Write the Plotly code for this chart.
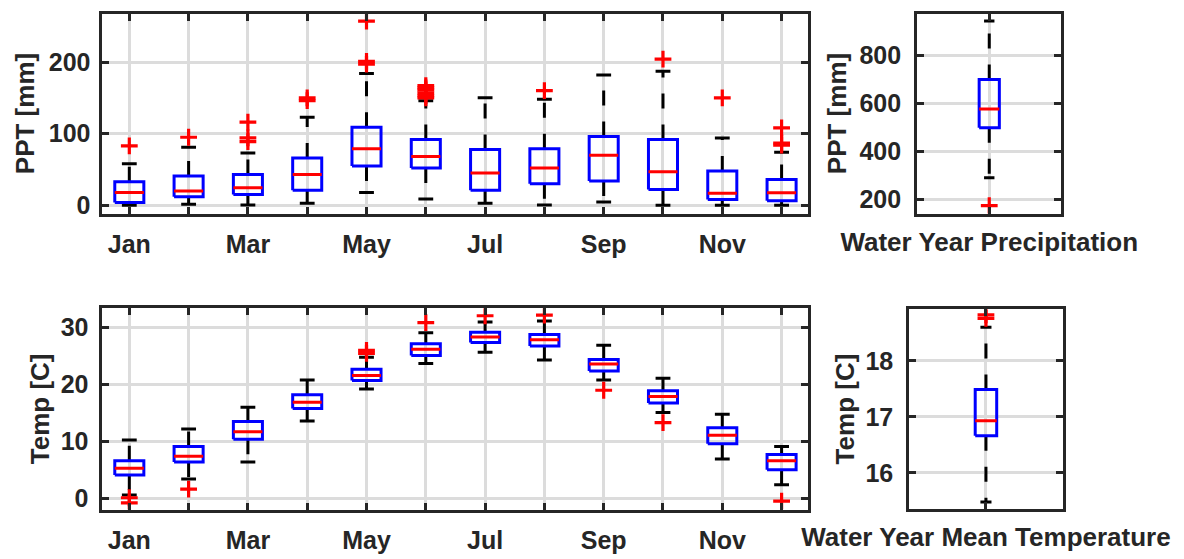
import plotly.graph_objects as go

# Monthly precipitation statistics (mm)
months = ["Jan", "Feb", "Mar", "Apr", "May", "Jun",
          "Jul", "Aug", "Sep", "Oct", "Nov", "Dec"]
month_labels = ["Jan", "", "Mar", "", "May", "", "Jul", "", "Sep", "", "Nov", ""]

ppt_q1 = [4, 12, 15, 21, 55, 52, 21, 30, 34, 22, 8, 6.5]
ppt_med = [18, 20, 24.5, 43, 79, 68, 45, 52, 70, 47, 17, 17.5]
ppt_q3 = [33, 41, 43, 66, 109, 92, 78, 79, 96, 92, 48, 36]
ppt_lo = [0, 1.5, 0.5, 3, 18, 9, 3, 0.5, 4.5, 0, 0, 0]
ppt_hi = [58, 81, 73, 123, 184, 146, 150, 148, 182, 187, 94, 74]
ppt_out = [[83], [95], [89, 94, 116], [146, 150], [197, 201, 257],
           [150, 153, 157, 161, 164, 167], [], [160], [], [204], [150],
           [84, 87, 108]]

# Water-year precipitation totals (mm)
wy_ppt = dict(q1=497, med=575, q3=698, lo=289, hi=942, out=[172])

# Monthly mean temperature statistics (C)
tmp_q1 = [4.1, 6.4, 10.4, 15.8, 20.7, 25.1, 27.4, 26.8, 22.4, 16.75, 9.6, 5.0]
tmp_med = [5.3, 7.4, 11.7, 16.9, 21.6, 26.2, 28.35, 27.9, 23.6, 17.9, 11.1, 6.6]
tmp_q3 = [6.6, 9.1, 13.5, 18.2, 22.7, 27.2, 29.2, 28.8, 24.4, 18.9, 12.4, 7.7]
tmp_lo = [0.6, 3.4, 6.4, 13.6, 19.2, 23.7, 25.7, 24.3, 20.8, 15.1, 6.9, 2.4]
tmp_hi = [10.25, 12.2, 16.0, 20.8, 24.8, 29.1, 31.0, 31.2, 26.9, 21.1, 14.8, 9.1]
tmp_out = [[0.1, -0.8], [1.6], [], [], [25.5, 26.0], [30.9], [32.1], [32.2],
           [19.0], [13.3], [], [-0.5]]

# Water-year mean temperature (C)
wy_tmp = dict(q1=16.66, med=16.93, q3=17.49, lo=15.48, hi=18.6, out=[18.76, 18.82])

FONT = "Liberation Sans, Arial, sans-serif"
INK = "#262626"
GRID = "#dcdcdc"
BOX_BLUE = "#0000ff"
RED = "#ff0000"

W, H = 1184, 559


def px_x(a, b):
    return [a / W, b / W]


def px_y(top, bottom):
    return [1 - bottom / H, 1 - top / H]


def boxplot_traces(xs, q1, med, q3, lo, hi, out, half_box, half_cap, xa, ya):
    """Build MATLAB-style box plot traces for a set of groups."""
    wx, wy, cx, cy, bx, by, mx, my, ox, oy = ([] for _ in range(10))
    for i, c in enumerate(xs):
        # whiskers start at the box edges and run outward
        wx += [c, c, None, c, c, None]
        wy += [q3[i], hi[i], None, q1[i], lo[i], None]
        cx += [c - half_cap, c + half_cap, None, c - half_cap, c + half_cap, None]
        cy += [hi[i], hi[i], None, lo[i], lo[i], None]
        bx += [c - half_box, c + half_box, c + half_box, c - half_box, c - half_box, None]
        by += [q1[i], q1[i], q3[i], q3[i], q1[i], None]
        mx += [c - half_box, c + half_box, None]
        my += [med[i], med[i], None]
        for v in out[i]:
            ox.append(c)
            oy.append(v)
    common = dict(xaxis=xa, yaxis=ya, showlegend=False, hoverinfo="skip")
    return [
        go.Scatter(x=wx, y=wy, mode="lines",
                   line=dict(color="black", width=3, dash="15px,16px"), **common),
        go.Scatter(x=cx, y=cy, mode="lines",
                   line=dict(color="black", width=3), **common),
        go.Scatter(x=bx, y=by, mode="lines",
                   line=dict(color=BOX_BLUE, width=3), **common),
        go.Scatter(x=mx, y=my, mode="lines",
                   line=dict(color=RED, width=3), **common),
        go.Scatter(x=ox, y=oy, mode="markers",
                   marker=dict(symbol="cross-thin", size=12,
                               line=dict(color=RED, width=3.2)), **common),
    ]


fig = go.Figure()
month_pos = list(range(1, 13))

for tr in boxplot_traces(month_pos, ppt_q1, ppt_med, ppt_q3, ppt_lo, ppt_hi,
                         ppt_out, 0.245, 0.125, "x", "y"):
    fig.add_trace(tr)
for tr in boxplot_traces([1], [wy_ppt["q1"]], [wy_ppt["med"]], [wy_ppt["q3"]],
                         [wy_ppt["lo"]], [wy_ppt["hi"]], [wy_ppt["out"]],
                         0.07, 0.036, "x2", "y2"):
    fig.add_trace(tr)
for tr in boxplot_traces(month_pos, tmp_q1, tmp_med, tmp_q3, tmp_lo, tmp_hi,
                         tmp_out, 0.245, 0.125, "x3", "y3"):
    fig.add_trace(tr)
for tr in boxplot_traces([1], [wy_tmp["q1"]], [wy_tmp["med"]], [wy_tmp["q3"]],
                         [wy_tmp["lo"]], [wy_tmp["hi"]], [wy_tmp["out"]],
                         0.07, 0.036, "x4", "y4"):
    fig.add_trace(tr)

tick_font = dict(family=FONT, size=25, color=INK, weight="bold")
title_font = dict(family=FONT, size=26, color=INK, weight="bold")

axis_style = dict(
    showline=True, linewidth=3, linecolor=INK, mirror="allticks",
    ticks="inside", ticklen=7, tickwidth=3, tickcolor=INK,
    showgrid=True, gridcolor=GRID, gridwidth=2.5, zeroline=False,
    tickfont=tick_font, fixedrange=True, automargin=False,
)

fig.update_layout(
    width=W, height=H,
    margin=dict(l=0, r=0, t=0, b=0),
    paper_bgcolor="white", plot_bgcolor="white",
    xaxis=dict(domain=px_x(101.5, 807.5), range=[0.531, 12.437], anchor="y",
               tickvals=month_pos, ticktext=month_labels,
               ticklabelstandoff=6, **axis_style),
    yaxis=dict(domain=px_y(13.5, 213.5), range=[-11.4, 267.7], anchor="x",
               tickvals=[0, 100, 200], ticklabelstandoff=3,
               title=dict(text="PPT [mm]", font=title_font, standoff=7),
               **axis_style),
    xaxis2=dict(domain=px_x(917.2, 1061.3), range=[0.5, 1.5], anchor="y2",
                tickvals=[1], ticktext=[""],
                title=dict(text="Water Year Precipitation", font=title_font,
                           standoff=13),
                **axis_style),
    yaxis2=dict(domain=px_y(13.5, 213.5), range=[139.6, 972.9], anchor="x2",
                tickvals=[200, 400, 600, 800], ticklabelstandoff=8,
                title=dict(text="PPT [mm]", font=title_font, standoff=6),
                **axis_style),
    xaxis3=dict(domain=px_x(101.5, 807.5), range=[0.531, 12.437], anchor="y3",
                tickvals=month_pos, ticktext=month_labels,
                ticklabelstandoff=6, **axis_style),
    yaxis3=dict(domain=px_y(308.2, 509.5), range=[-1.97, 33.43], anchor="x3",
                tickvals=[0, 10, 20, 30], ticklabelstandoff=5,
                title=dict(text="Temp [C]", font=title_font, standoff=4),
                **axis_style),
    xaxis4=dict(domain=px_x(909.2, 1062.7), range=[0.5, 1.5], anchor="y4",
                tickvals=[1], ticktext=[""],
                title=dict(text="Water Year Mean Temperature", font=title_font,
                           standoff=12),
                **axis_style),
    yaxis4=dict(domain=px_y(308.8, 509.2), range=[15.35, 18.93], anchor="x4",
                tickvals=[16, 17, 18], ticklabelstandoff=8,
                title=dict(text="Temp [C]", font=title_font, standoff=4),
                **axis_style),
)

fig.write_html("out.html")
